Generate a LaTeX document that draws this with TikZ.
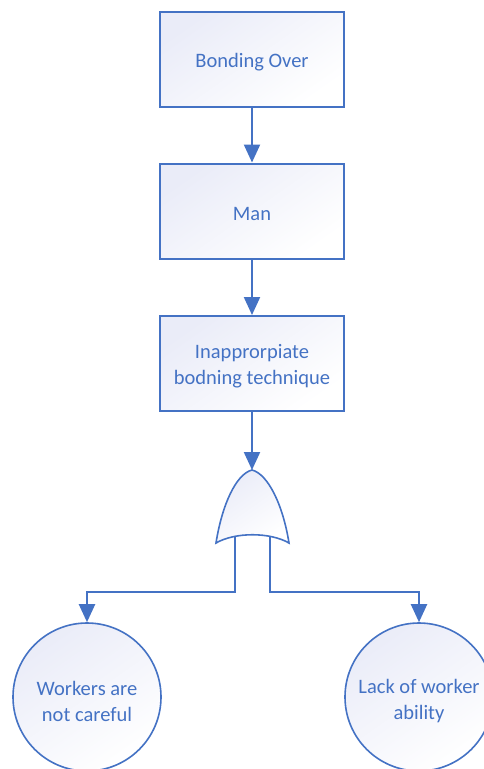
\documentclass[tikz,border=0pt]{standalone}
\usepackage{fontspec}
\setmainfont{Carlito}
\usetikzlibrary{arrows.meta}
\definecolor{edge}{RGB}{68,114,196}
\definecolor{txt}{RGB}{68,114,196}
\definecolor{lav}{RGB}{234,236,248}
\tikzset{
  x=1pt,y=1pt,
  fillgrad/.style={top color=lav, bottom color=white, shading angle=35},
  txtstyle/.style={align=center, text=txt, inner sep=0pt, font=\fontsize{20.5}{26}\selectfont},
  eventbox/.style={draw=edge, line width=2pt, fillgrad, minimum width=184pt, minimum height=95pt, inner sep=0pt},
  basic/.style={circle, draw=edge, line width=1.6pt, fillgrad, minimum size=148pt, inner sep=0pt},
  conn/.style={draw=edge, line width=2.2pt},
  arr/.style={conn, -{Triangle[width=16pt,length=18pt]}},
}
\begin{document}
\begin{tikzpicture}
\useasboundingbox (0,0) rectangle (483,-769);
\node[eventbox, label={[txtstyle, yshift=-3pt]center:Bonding Over}] (top) at (252,-59.5) {};
\node[eventbox, label={[txtstyle, yshift=-3pt]center:Man}] (man) at (252,-211) {};
\node[eventbox, label={[txtstyle, yshift=-3pt]center:Inapprorpiate\\bodning technique}] (tech) at (252,-363.5) {};
\node[basic, label={[txtstyle, yshift=-4pt]center:Workers are\\not careful}] (careful) at (87,-697) {};
\node[basic, label={[txtstyle, yshift=-4pt]center:Lack of worker\\ability}] (ability) at (419,-697) {};
% OR gate
\coordinate (apex) at (252,-470);
\coordinate (legL) at (235,-536);
\coordinate (legR) at (270,-536);
\draw[conn, fillgrad, line width=1.6pt] (216,-543) .. controls (222,-505) and (236,-474) .. (apex)
  .. controls (268,-474) and (283,-505) .. (289,-543)
  .. controls (270,-532) and (235,-532) .. cycle;
\draw[arr] (top) -- (man);
\draw[arr] (man) -- (tech);
\draw[arr] (tech) -- (apex);
\draw[arr] (legL) |- (87,-592) -- (careful);
\draw[arr] (legR) |- (419,-592) -- (ability);
\end{tikzpicture}
\end{document}
